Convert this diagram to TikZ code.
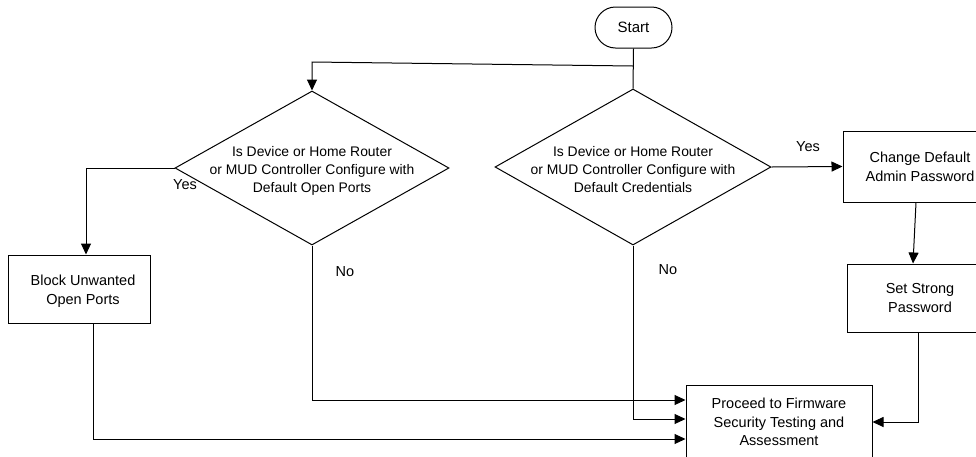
\documentclass[tikz,border=0pt]{standalone}
\usepackage{fontspec}
\setmainfont{Liberation Sans}
\usetikzlibrary{arrows.meta,shapes.geometric,shapes.misc}
\tikzset{
  base/.style={draw=black, line width=1pt, inner sep=0pt, font=\fontsize{14.5}{18.8}\selectfont, align=center},
  terminal/.style={base, rounded rectangle, minimum width=77pt, minimum height=41pt, font=\fontsize{15}{18}\selectfont},
  decision/.style={draw=black, line width=1pt, diamond, inner sep=0pt},
  qtext/.style={inner sep=0pt, font=\fontsize{13.9}{18}\selectfont, align=center},
  process/.style={base, rectangle},
  lbl/.style={inner sep=0pt, font=\fontsize{14.5}{17}\selectfont},
  link/.style={line width=1pt, draw=black},
  arr/.style={link, -{Triangle[length=11pt,width=10pt]}}
}
\begin{document}
\begin{tikzpicture}[x=1pt,y=-1pt]
\clip (0,0) rectangle (976,456);
\fill[white] (0,0) rectangle (976,456);

% start terminal
\node[terminal] (start) at (633.5,27.5) {Start};

% decisions
\node[decision, minimum width=274pt, minimum height=154pt] (d1) at (312,168) {};
\node[qtext] (q1) at ([yshift=-2.5pt]d1.center) {Is Device or Home Router\\or MUD Controller Configure with\\Default Open Ports};
\node[decision, minimum width=276pt, minimum height=156pt] (d2) at (633,167) {};
\node[qtext] (q2) at ([yshift=-2.5pt]d2.center) {Is Device or Home Router\\or MUD Controller Configure with\\Default Credentials};

% process boxes
\node[process, minimum width=142pt, minimum height=68pt] (block) at (79,289) {};
\node[qtext, font=\fontsize{14.5}{19.5}\selectfont] (blocktext) at ([xshift=4pt,yshift=-2pt]block.center) {Block Unwanted\\Open Ports};
\node[process, minimum width=154pt, minimum height=71pt] (change) at (920,166.5) {Change Default\\Admin Password};
\node[process, minimum width=146pt, minimum height=68pt] (strong) at (920,298) {Set Strong\\Password};
\node[process, minimum width=186pt, minimum height=74pt] (proceed) at (779,422) {Proceed to Firmware\\Security Testing and\\Assessment};

% branch from start to both checks
\coordinate (split) at (633,66);
\coordinate (splitl) at (312,62);
\draw[link] (start.south) -- (d2.north);
\draw[arr] (split) -- (splitl) -- (d1.north);

% open ports branch
\draw[arr] (d1.west) -| ([xshift=7pt]block.north);
\node[lbl] (yes1) at (185,185) {Yes};
\draw[arr] ([xshift=14pt]block.south) |- ([yshift=-17pt]proceed.west);
\draw[arr] (d1.south) |- ([yshift=22pt]proceed.west);
\node[lbl] (no1) at (345,272) {No};

% credentials branch
\draw[arr] (d2.east) -- (change.west);
\node[lbl] (yes2) at (808,147) {Yes};
\draw[arr] (d2.south) |- ([yshift=3pt]proceed.west);
\node[lbl] (no2) at (668,270) {No};
\draw[arr] ([xshift=-4pt]change.south) -- ([xshift=-7pt]strong.north);
\draw[arr] ([xshift=-2pt]strong.south) |- (proceed.east);
\end{tikzpicture}
\end{document}
